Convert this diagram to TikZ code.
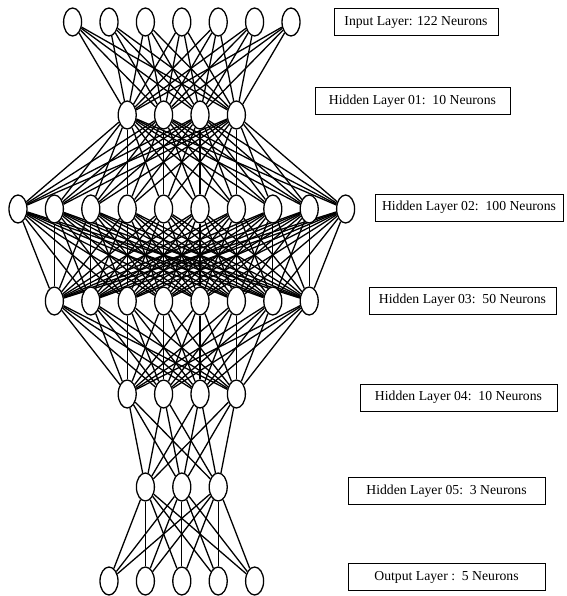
\documentclass[tikz,border=0pt]{standalone}
\usepackage{fontspec}
\setmainfont{Liberation Serif}
\usetikzlibrary{shapes.geometric,backgrounds}
\tikzset{
  neuron/.style={ellipse,draw=black,line width=1.3pt,fill=white,minimum width=18pt,minimum height=28pt,inner sep=0pt},
  conn/.style={line width=1.3pt,black},
  labelbox/.style={draw=black,line width=1pt,rectangle,minimum height=27pt,inner sep=2pt,font=\fontsize{13.7}{15}\selectfont}
}
\begin{document}
\begin{tikzpicture}[x=1pt,y=-1pt]
\useasboundingbox (0,0) rectangle (566,596);
% layers
\foreach \i in {1,...,7} \node[neuron] (a\i) at ({18+36.4*(\i+0.5)},22) {};
\foreach \i in {1,...,4} \node[neuron] (b\i) at ({18+36.4*(\i+2)},115) {};
\foreach \i in {1,...,10} \node[neuron] (c\i) at ({18+36.4*(\i-1)},209) {};
\foreach \i in {1,...,8} \node[neuron] (d\i) at ({18+36.4*\i},301) {};
\foreach \i in {1,...,4} \node[neuron] (e\i) at ({18+36.4*(\i+2)},394) {};
\foreach \i in {1,...,3} \node[neuron] (f\i) at ({18+36.4*(\i+2.5)},487) {};
\foreach \i in {1,...,5} \node[neuron] (g\i) at ({18+36.4*(\i+1.5)},581) {};
\begin{pgfonlayer}{background}
\foreach \i in {1,...,7} \foreach \j in {1,...,4} \draw[conn] (a\i) -- (b\j);
\foreach \i in {1,...,4} \foreach \j in {1,...,10} \draw[conn] (b\i) -- (c\j);
\foreach \i in {1,...,10} \foreach \j in {1,...,8} \draw[conn] (c\i) -- (d\j);
\foreach \i in {1,...,8} \foreach \j in {1,...,4} \draw[conn] (d\i) -- (e\j);
\foreach \i in {1,...,4} \foreach \j in {1,...,3} \draw[conn] (e\i) -- (f\j);
\foreach \i in {1,...,3} \foreach \j in {1,...,5} \draw[conn] (f\i) -- (g\j);
\end{pgfonlayer}
% labels
\node[labelbox,minimum width=164pt] (lin) at (416,22.5) {Input Layer: 122 Neurons};
\node[labelbox,minimum width=195pt] (lh1) at (412.5,101) {Hidden Layer 01:\ \ 10 Neurons};
\node[labelbox,minimum width=188pt] (lh2) at (469,207.5) {Hidden Layer 02:\ \ 100 Neurons};
\node[labelbox,minimum width=187pt] (lh3) at (462.5,300.5) {Hidden Layer 03:\ \ 50 Neurons};
\node[labelbox,minimum width=197pt] (lh4) at (458.5,397.5) {Hidden Layer 04:\ \ 10 Neurons};
\node[labelbox,minimum width=197pt] (lh5) at (446.5,491) {Hidden Layer 05:\ \ 3 Neurons};
\node[labelbox,minimum width=197pt] (lout) at (446.5,577) {Output Layer :\ \ 5 Neurons};
\end{tikzpicture}
\end{document}
